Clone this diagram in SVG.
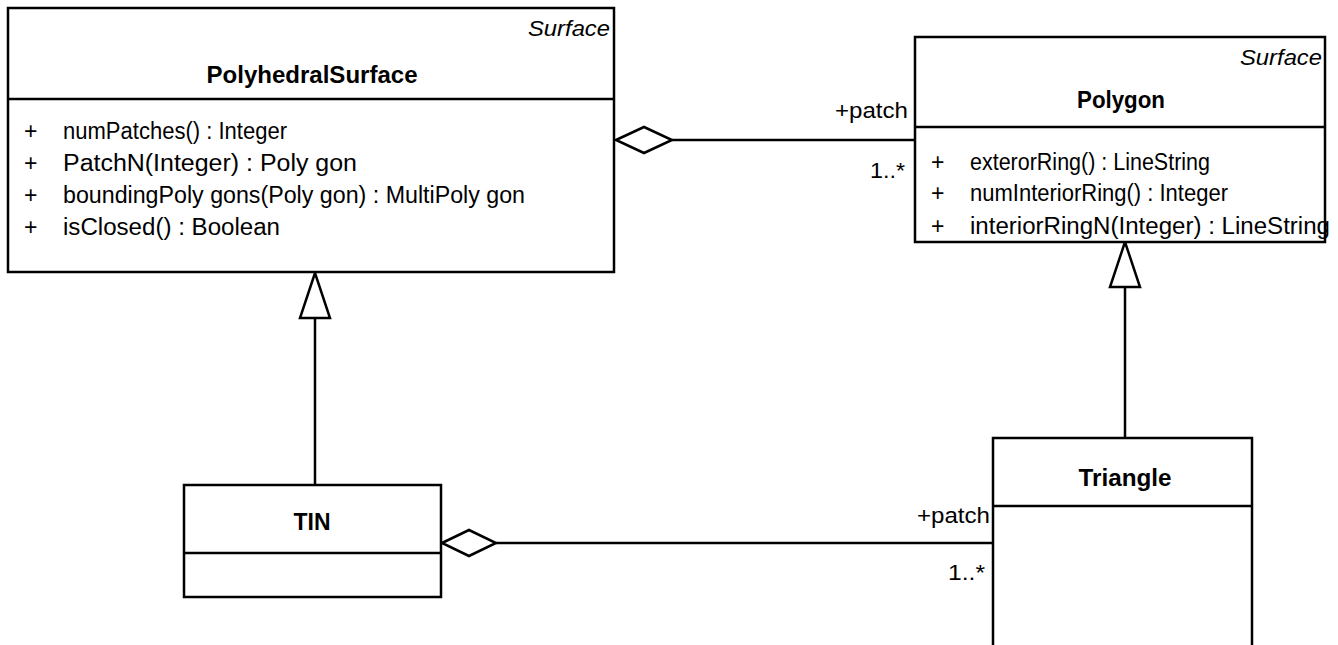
<svg xmlns="http://www.w3.org/2000/svg" width="1338" height="645" viewBox="0 0 1338 645">
<style>
.box{fill:#fff;stroke:#000;stroke-width:2.5}
.ln{fill:none;stroke:#000;stroke-width:2.5}
.hd{fill:#fff;stroke:#000;stroke-width:2.5;stroke-linejoin:miter}
text{font-family:"Liberation Sans",Arial,sans-serif;fill:#000;font-size:23px}
.t{font-weight:bold;text-anchor:middle}
.s{font-style:italic;text-anchor:end;font-size:22px}
.r{text-anchor:end;font-size:22px}
</style>
<rect width="1338" height="645" fill="#fff"/>
<g id="connectors">
<line class="ln" x1="672" y1="140" x2="915" y2="140"/>
<polygon class="hd" points="616,140 644,127 672,140 644,153"/>
<line class="ln" x1="496" y1="543" x2="993" y2="543"/>
<polygon class="hd" points="442,543 469,530 496,543 469,556"/>
<line class="ln" x1="315" y1="318" x2="315" y2="485"/>
<polygon class="hd" points="315,273 300,318 330,318"/>
<line class="ln" x1="1125" y1="287" x2="1125" y2="438"/>
<polygon class="hd" points="1125,242 1110,287 1140,287"/>
<text class="r" x="908" y="118" textLength="73" lengthAdjust="spacingAndGlyphs">+patch</text>
<text class="r" x="905" y="178" textLength="35" lengthAdjust="spacingAndGlyphs">1..*</text>
<text class="r" x="990" y="523" textLength="73" lengthAdjust="spacingAndGlyphs">+patch</text>
<text class="r" x="985" y="580" textLength="37" lengthAdjust="spacingAndGlyphs">1..*</text>
</g>
<g id="PolyhedralSurface">
<rect class="box" x="8" y="8" width="606" height="264"/>
<line class="ln" x1="8" y1="99" x2="614" y2="99"/>
<text class="s" x="610" y="36" textLength="82" lengthAdjust="spacingAndGlyphs">Surface</text>
<text class="t" x="312" y="83" textLength="211" lengthAdjust="spacingAndGlyphs">PolyhedralSurface</text>
<text x="24" y="139">+</text><text x="63" y="139" textLength="224" lengthAdjust="spacingAndGlyphs">numPatches() : Integer</text>
<text x="24" y="171">+</text><text x="63" y="171" textLength="294" lengthAdjust="spacingAndGlyphs">PatchN(Integer) : Poly gon</text>
<text x="24" y="203">+</text><text x="63" y="203" textLength="462" lengthAdjust="spacingAndGlyphs">boundingPoly gons(Poly gon) : MultiPoly gon</text>
<text x="24" y="235">+</text><text x="63" y="235" textLength="217" lengthAdjust="spacingAndGlyphs">isClosed() : Boolean</text>
</g>
<g id="Polygon">
<rect class="box" x="915" y="37" width="410" height="205"/>
<line class="ln" x1="915" y1="127" x2="1325" y2="127"/>
<text class="s" x="1322" y="65" textLength="82" lengthAdjust="spacingAndGlyphs">Surface</text>
<text class="t" x="1121" y="108" textLength="88" lengthAdjust="spacingAndGlyphs">Polygon</text>
<text x="931" y="170">+</text><text x="970" y="170" textLength="240" lengthAdjust="spacingAndGlyphs">exterorRing() : LineString</text>
<text x="931" y="201">+</text><text x="970" y="201" textLength="258" lengthAdjust="spacingAndGlyphs">numInteriorRing() : Integer</text>
<text x="931" y="234">+</text><text x="970" y="234" textLength="360" lengthAdjust="spacingAndGlyphs">interiorRingN(Integer) : LineString</text>
</g>
<g id="TIN">
<rect class="box" x="184" y="485" width="257" height="112"/>
<line class="ln" x1="184" y1="553" x2="441" y2="553"/>
<text class="t" x="312" y="530" textLength="37" lengthAdjust="spacingAndGlyphs">TIN</text>
</g>
<g id="Triangle">
<rect class="box" x="993" y="438" width="259" height="230"/>
<line class="ln" x1="993" y1="506" x2="1252" y2="506"/>
<text class="t" x="1125" y="486" textLength="93" lengthAdjust="spacingAndGlyphs">Triangle</text>
</g>
</svg>
